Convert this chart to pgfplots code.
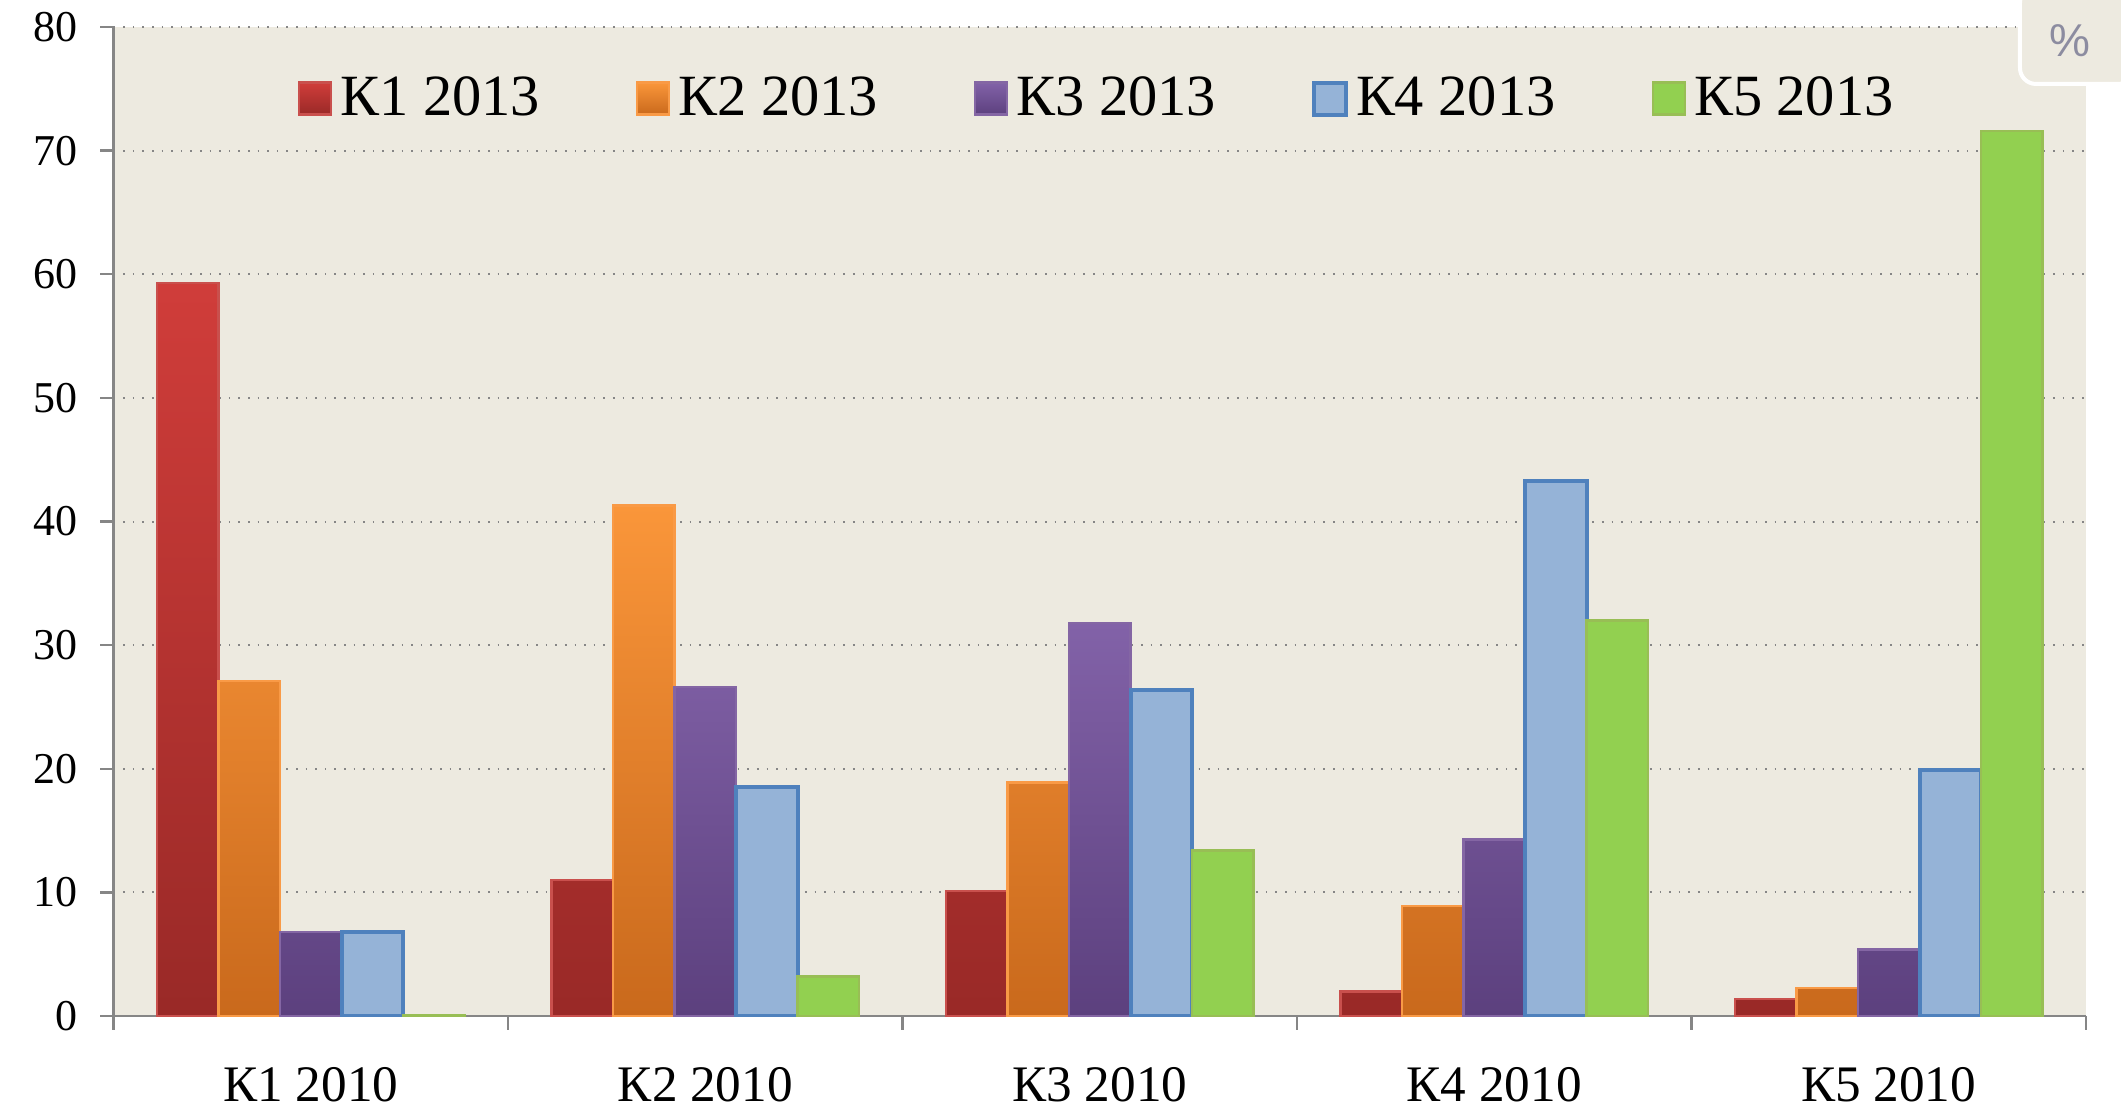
\documentclass[border=0pt]{standalone}
\usepackage{fontspec}
\setmainfont{Liberation Serif}
\newfontfamily\sansfont{Liberation Sans}
\usepackage{pgfplots}
\pgfplotsset{compat=1.18}

\definecolor{bgc}{RGB}{237,234,224}
\definecolor{redT}{HTML}{D03D3A}
\definecolor{redB}{HTML}{992927}
\definecolor{redD}{HTML}{C9504D}
\definecolor{orT}{HTML}{FA963A}
\definecolor{orB}{HTML}{C9691C}
\definecolor{orD}{HTML}{F99A46}
\definecolor{puT}{HTML}{8262A8}
\definecolor{puB}{HTML}{5C407E}
\definecolor{puD}{HTML}{8466A4}
\definecolor{blF}{HTML}{95B3D7}
\definecolor{blD}{HTML}{4F81BD}
\definecolor{grF}{HTML}{92D050}
\definecolor{grD}{HTML}{98BE55}
\definecolor{axc}{RGB}{134,134,134}
\definecolor{pct}{RGB}{140,140,160}

\pgfplotstableread{
x  k1   k2   k3   k4   k5
0.5 59.3 27.1 6.8  6.8  0.1
1.5 11.0 41.3 26.6 18.5 3.2
2.5 10.1 18.9 31.8 26.4 13.4
3.5 2.0  8.9  14.3 43.3 32.0
4.5 1.4  2.3  5.4  19.9 71.6
}\data

\begin{document}
\begin{tikzpicture}
\begin{axis}[
  name=ax,
  scale only axis, width=493pt, height=247.25pt,
  xmin=0, xmax=5, ymin=0, ymax=80,
  ybar=0pt, bar width=0.156,
  axis background/.style={fill=bgc},
  axis x line*=bottom, axis y line*=left,
  axis line style={axc, line width=0.6pt},
  tick align=outside,
  ytick={0,10,...,80},
  major tick length=3.4pt,
  tick style={axc, line width=0.6pt},
  xtick={0.5,1.5,2.5,3.5,4.5},
  xticklabels={К1 2010, К2 2010, К3 2010, К4 2010, К5 2010},
  x tick style={draw=none},
  extra x ticks={0,1,2,3,4,5},
  extra x tick labels={},
  extra x tick style={x tick style={draw=axc}, grid=none},
  ymajorgrids=true,
  grid style={axc, dotted, line width=0.5pt},
  /pgf/number format/assume math mode=true,
  yticklabel style={font=\fontsize{11}{13}\selectfont, xshift=-2pt},
  xticklabel style={font=\fontsize{12.8}{15}\selectfont, yshift=-6pt},
  legend style={draw=none, fill=none, at={(0.5,0.9275)}, anchor=center,
    legend columns=5, font=\fontsize{14.6}{16}\selectfont,
    /tikz/every even column/.append style={column sep=22pt}},
  legend image code/.code={\draw[#1] (0pt,-4pt) rectangle (8pt,4pt);},
  legend cell align=left,
]
\addplot[draw=redD, line width=0.6pt, top color=redT, bottom color=redB] table[x=x,y=k1]{\data};
\addplot[draw=orD, line width=0.6pt, top color=orT, bottom color=orB] table[x=x,y=k2]{\data};
\addplot[draw=puD, line width=0.6pt, top color=puT, bottom color=puB] table[x=x,y=k3]{\data};
\addplot[draw=blD, line width=1pt, fill=blF] table[x=x,y=k4]{\data};
\addplot[draw=grD, line width=0.6pt, fill=grF] table[x=x,y=k5]{\data};
\legend{К1 2013, К2 2013, К3 2013, К4 2013, К5 2013}
\end{axis}
\draw[white, line width=1pt, fill=bgc, rounded corners=4pt]
  ([xshift=-16.5pt,yshift=-14.25pt]ax.north east) rectangle ([xshift=12pt,yshift=10pt]ax.north east);
\node[font=\sansfont\fontsize{11.5}{13}\selectfont, text=pct] at ([xshift=-4pt,yshift=-3.5pt]ax.north east) {\%};
\pgfresetboundingbox
\path ([xshift=-28.4pt,yshift=-23.75pt]ax.south west) rectangle ([xshift=8.75pt,yshift=6.75pt]ax.north east);
\end{tikzpicture}
\end{document}
